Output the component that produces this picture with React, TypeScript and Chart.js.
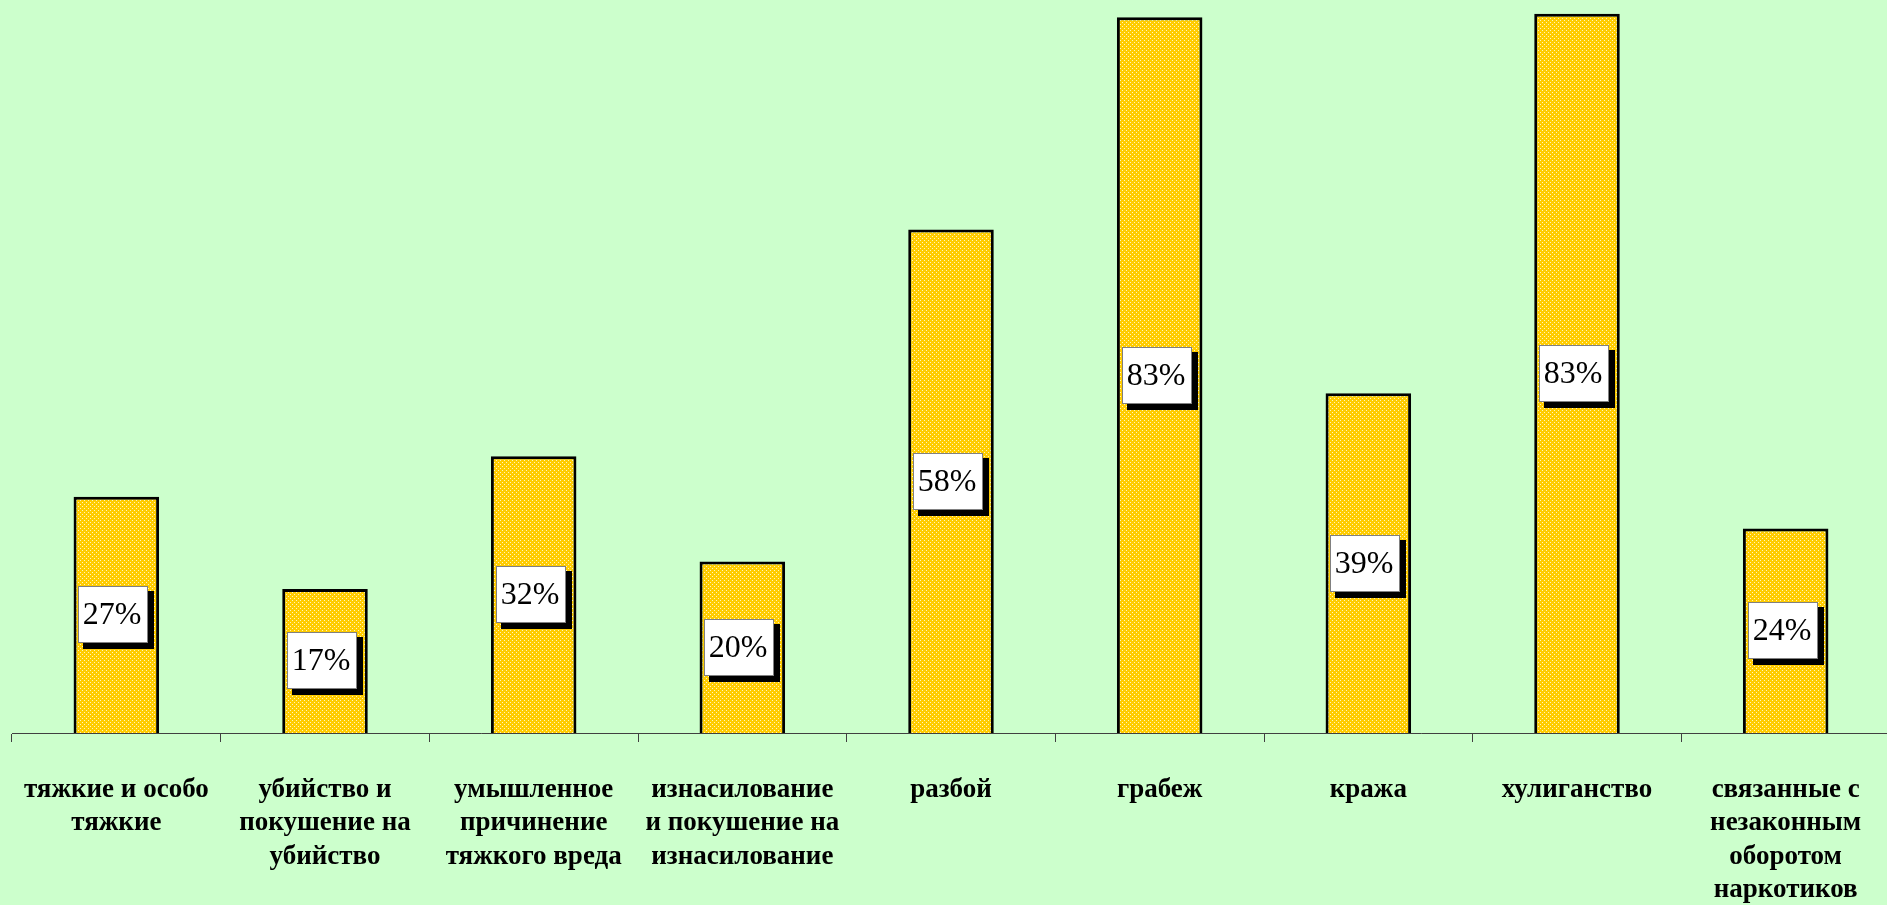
import React, { useEffect, useRef } from "react";
import { Chart, registerables } from "chart.js";

Chart.register(...registerables);

const categories: string[][] = [
  ["тяжкие и особо", "тяжкие"],
  ["убийство и", "покушение на", "убийство"],
  ["умышленное", "причинение", "тяжкого вреда"],
  ["изнасилование", "и покушение на", "изнасилование"],
  ["разбой"],
  ["грабеж"],
  ["кража"],
  ["хулиганство"],
  ["связанные с", "незаконным", "оборотом", "наркотиков"],
];

const shares: number[] = [27.4, 16.7, 32.1, 19.9, 58.4, 83.0, 39.4, 83.4, 23.7];

const yMin = 0;
const yMax = 85;

function makePattern(): CanvasPattern | string {
  const c = document.createElement("canvas");
  c.width = 4;
  c.height = 4;
  const g = c.getContext("2d");
  if (!g) return "#FFCC00";
  g.fillStyle = "#FFCC00";
  g.fillRect(0, 0, 4, 4);
  g.fillStyle = "#FFF4C0";
  g.fillRect(0, 0, 1, 1);
  g.fillRect(2, 2, 1, 1);
  const p = g.createPattern(c, "repeat");
  return p || "#FFCC00";
}

const bgPlugin = {
  id: "bgFill",
  beforeDraw(chart: any) {
    const ctx = chart.ctx;
    ctx.save();
    ctx.fillStyle = "#CCFFCC";
    ctx.fillRect(0, 0, chart.width, chart.height);
    ctx.restore();
  },
};

const labelPlugin = {
  id: "boxLabels",
  afterDatasetsDraw(chart: any) {
    const ctx = chart.ctx;
    const meta = chart.getDatasetMeta(0);
    const values = chart.data.datasets[0].data as number[];
    ctx.save();
    meta.data.forEach((bar: any, i: number) => {
      const { x, y, base } = bar.getProps(["x", "y", "base"], true);
      const cy = (y + base) / 2;
      const w = 70;
      const h = 57;
      const bx = Math.round(x - 3 - w / 2);
      const by = Math.round(cy - h / 2);
      ctx.fillStyle = "#000000";
      ctx.fillRect(bx + 5, by + 5, w + 1, h + 1);
      ctx.fillStyle = "#FFFFFF";
      ctx.fillRect(bx, by, w, h);
      ctx.strokeStyle = "#808080";
      ctx.lineWidth = 1;
      ctx.strokeRect(bx + 0.5, by + 0.5, w - 1, h - 1);
      ctx.fillStyle = "#000000";
      ctx.font = '32px "Times New Roman", "Liberation Serif", serif';
      ctx.textAlign = "center";
      ctx.textBaseline = "middle";
      ctx.fillText(Math.round(values[i]) + "%", bx + w / 2 - 1, cy + 1);
    });
    ctx.restore();
  },
};

export default function App() {
  const canvasRef = useRef<HTMLCanvasElement | null>(null);

  useEffect(() => {
    document.body.style.margin = "0";
    document.body.style.overflow = "hidden";
    const canvas = canvasRef.current;
    if (!canvas) return;
    const chart = new Chart(canvas, {
      type: "bar",
      data: {
        labels: categories,
        datasets: [
          {
            data: shares,
            backgroundColor: makePattern() as any,
            borderColor: "#000000",
            borderWidth: 3,
            categoryPercentage: 1,
            barPercentage: 0.41,
          },
        ],
      },
      options: {
        animation: false,
        responsive: true,
        maintainAspectRatio: false,
        devicePixelRatio: 1,
        layout: { padding: { left: 12, right: 0, top: 0, bottom: 0 } },
        plugins: {
          legend: { display: false },
          tooltip: { enabled: false },
        },
        scales: {
          x: {
            offset: true,
            afterFit: (scale: any) => {
              scale.height = 172;
              scale.paddingLeft = 0;
              scale.paddingRight = 0;
            },
            border: { display: true, color: "#404040", width: 1 },
            grid: {
              display: true,
              offset: true,
              drawOnChartArea: false,
              drawTicks: true,
              tickLength: 9,
              color: "#404040",
            },
            ticks: {
              autoSkip: false,
              maxRotation: 0,
              minRotation: 0,
              padding: 31,
              color: "#000000",
              font: {
                family: '"Times New Roman", "Liberation Serif", serif',
                size: 27,
                weight: "bold",
                lineHeight: 1.24,
              },
            },
          },
          y: {
            display: false,
            min: yMin,
            max: yMax,
          },
        },
      },
      plugins: [bgPlugin, labelPlugin],
    });
    return () => chart.destroy();
  }, []);

  return (
    <div
      style={{
        position: "fixed",
        left: 0,
        top: 0,
        width: 1887,
        height: 905,
        overflow: "hidden",
        background: "#CCFFCC",
      }}
    >
      <div style={{ position: "relative", width: 1890, height: 905 }}>
        <canvas ref={canvasRef} />
      </div>
    </div>
  );
}
